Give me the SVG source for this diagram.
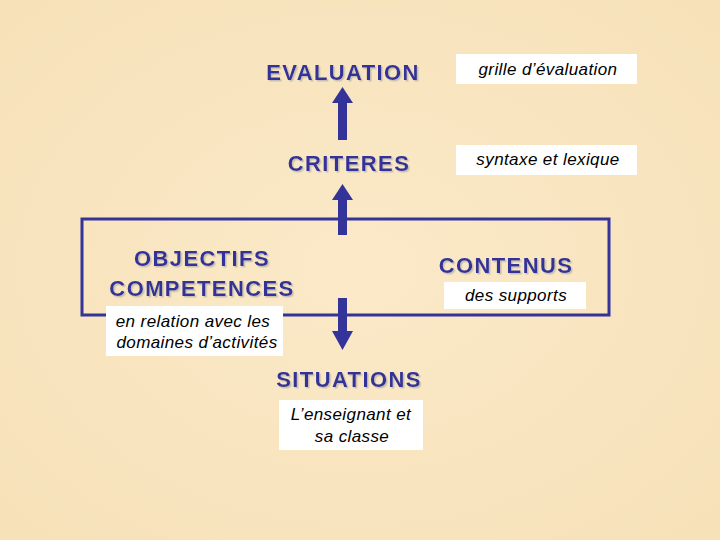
<svg xmlns="http://www.w3.org/2000/svg" width="720" height="540" viewBox="0 0 720 540">
<defs>
<filter id="sh" x="-10%" y="-20%" width="130%" height="150%"><feDropShadow dx="1.5" dy="1.5" stdDeviation="0.3" flood-color="#c8c0b0" flood-opacity="1"/></filter>
<radialGradient id="bg" cx="50%" cy="50%" r="70%"><stop offset="0" stop-color="#fbe9c8"/><stop offset="1" stop-color="#f6e1b8"/></radialGradient>
</defs>
<style>
.t{font-family:"Liberation Sans",Arial,sans-serif;font-weight:bold;font-size:22px;letter-spacing:1.4px;fill:#333399;text-anchor:middle;filter:url(#sh)}
.s{font-family:"Liberation Sans",Arial,sans-serif;font-style:italic;font-size:17px;letter-spacing:0.4px;fill:#000;text-anchor:middle}
.b{fill:#fff}
.a{fill:#333399}
</style>
<rect width="720" height="540" fill="url(#bg)"/>
<g id="connectors">
<rect x="82" y="219" width="527" height="96" fill="none" stroke="#333399" stroke-width="3"/>
<polygon class="a" points="338,140 347,140 347,103 353,103 342.5,87 332,103 338,103"/>
<polygon class="a" points="338,235 347,235 347,200 353,200 342.5,184 332,200 338,200"/>
<polygon class="a" points="338,298 347,298 347,331 353,331 342.5,350 332,331 338,331"/>
</g>
<g id="evaluation"><text class="t" x="343" y="80">EVALUATION</text></g>
<g id="grille"><rect class="b" x="456" y="54" width="181" height="30"/><text class="s" x="548" y="75">grille d’évaluation</text></g>
<g id="criteres"><text class="t" x="349" y="171">CRITERES</text></g>
<g id="syntaxe"><rect class="b" x="456" y="145" width="181" height="30"/><text class="s" x="548" y="165">syntaxe et  lexique</text></g>
<g id="objectifs"><text class="t" x="202" y="266">OBJECTIFS</text><text class="t" x="202" y="296">COMPETENCES</text></g>
<g id="relation"><rect class="b" x="106" y="306" width="177" height="50"/><text class="s" x="193" y="327">en relation avec les</text><text class="s" x="197" y="348">domaines d’activités</text></g>
<g id="contenus"><text class="t" x="506" y="273">CONTENUS</text></g>
<g id="supports"><rect class="b" x="444" y="282" width="142" height="27"/><text class="s" x="516" y="301">des supports</text></g>
<g id="situations"><text class="t" x="349" y="387">SITUATIONS</text></g>
<g id="enseignant"><rect class="b" x="279" y="400" width="144" height="50"/><text class="s" x="351" y="420">L’enseignant et</text><text class="s" x="352" y="442">sa classe</text></g>
</svg>
